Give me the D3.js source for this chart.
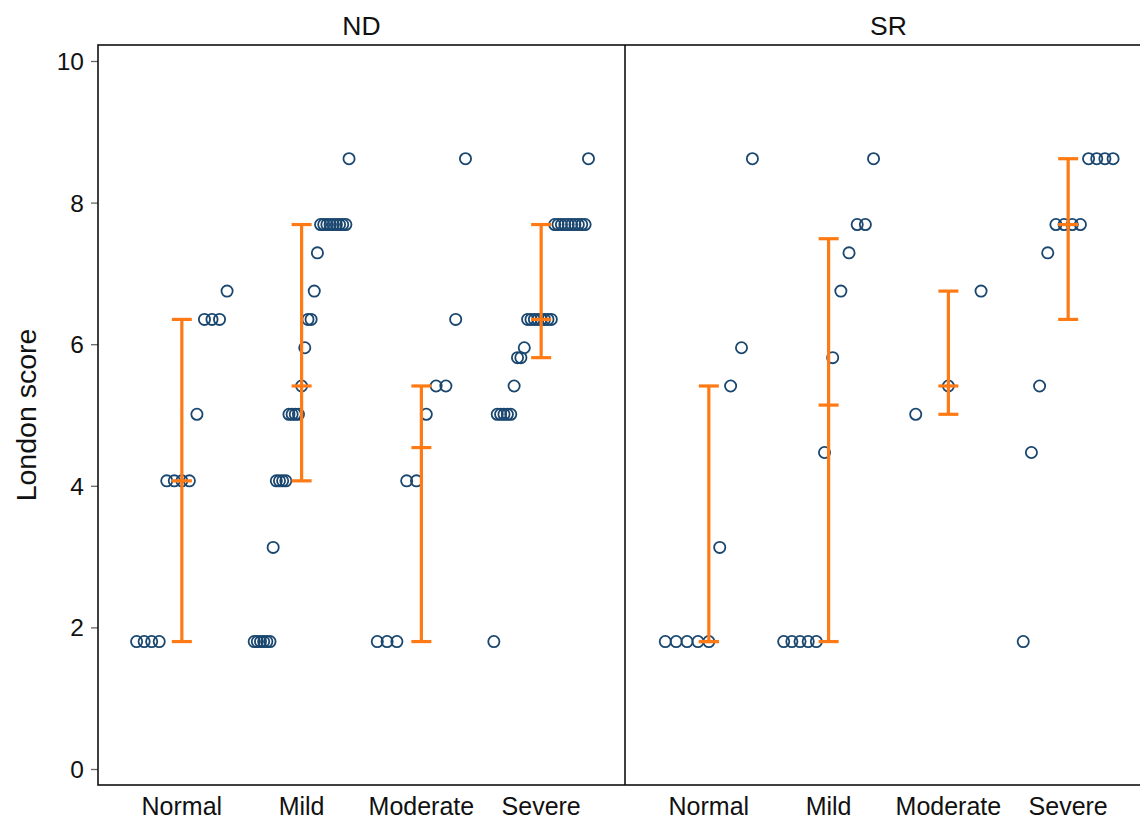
<!DOCTYPE html>
<html>
<head>
<meta charset="utf-8">
<script src="https://cdn.jsdelivr.net/npm/d3@7"></script>
<style>
  body { margin: 0; background: #fff; }
  svg { display: block; }
  text { font-family: "Liberation Sans", Arial, Helvetica, sans-serif; fill: #111; }
</style>
</head>
<body>
<svg id="chart" width="1140" height="821"></svg>
<script>
// Panels, categories and axis ticks
const panels = ["ND", "SR"];
const categories = ["Normal", "Mild", "Moderate", "Severe"];
const yTicks = [0, 2, 4, 6, 8, 10];

// Individual London scores per group (ND panel)
const ndNormal   = [1.8, 1.8, 1.8, 1.8, 4.07, 4.07, 4.07, 4.07, 5.01, 6.35, 6.35, 6.35, 6.75];
const ndMild     = [1.8, 1.8, 1.8, 1.8, 1.8, 1.8, 3.13, 4.07, 4.07, 4.07, 4.07, 5.01, 5.01, 5.01, 5.01,
                    5.41, 5.95, 6.35, 6.35, 6.75, 7.29, 7.69, 7.69, 7.69, 7.69, 7.69, 7.69, 7.69, 7.69, 7.69, 8.62];
const ndModerate = [1.8, 1.8, 1.8, 4.07, 4.07, 5.01, 5.41, 5.41, 6.35, 8.62];
const ndSevere   = [1.8, 5.01, 5.01, 5.01, 5.01, 5.01, 5.41, 5.81, 5.81, 5.95, 6.35, 6.35, 6.35, 6.35, 6.35,
                    6.35, 6.35, 6.35, 7.69, 7.69, 7.69, 7.69, 7.69, 7.69, 7.69, 7.69, 7.69, 7.69, 8.62];

// Individual London scores per group (SR panel)
const srNormal   = [1.8, 1.8, 1.8, 1.8, 1.8, 3.13, 5.41, 5.95, 8.62];
const srMild     = [1.8, 1.8, 1.8, 1.8, 1.8, 4.47, 5.81, 6.75, 7.29, 7.69, 7.69, 8.62];
const srModerate = [5.01, 5.41, 6.75];
const srSevere   = [1.8, 4.47, 5.41, 7.29, 7.69, 7.69, 7.69, 7.69, 8.62, 8.62, 8.62, 8.62];

// Median and interquartile range per category
const ndQ25    = [1.8, 4.07, 1.8, 5.81];
const ndMedian = [4.07, 5.41, 4.54, 6.35];
const ndQ75    = [6.35, 7.69, 5.41, 7.69];
const srQ25    = [1.8, 1.8, 5.01, 6.35];
const srMedian = [1.8, 5.14, 5.41, 7.69];
const srQ75    = [5.41, 7.49, 6.75, 8.62];

const groups = {
  ND: [ndNormal, ndMild, ndModerate, ndSevere],
  SR: [srNormal, srMild, srModerate, srSevere]
};
const summary = {
  ND: { q25: ndQ25, med: ndMedian, q75: ndQ75 },
  SR: { q25: srQ25, med: srMedian, q75: srQ75 }
};

// Geometry
const plotLeft = 98, plotTop = 45, plotBottom = 785, panelW = 527;
const groupSpread = 98;
const pointColor = "#1a476f";
const barColor = "#ff7a14";

const svg = d3.select("#chart");

const xPanel = d3.scaleBand().domain(panels).range([plotLeft, plotLeft + panels.length * panelW]).padding(0);
const xCat = d3.scalePoint().domain(categories).range([0, panelW]).padding(0.7);
const y = d3.scaleLinear().domain([0, 10]).range([769, 61]);

// Y axis
const yAxis = svg.append("g")
  .attr("transform", `translate(${plotLeft},0)`)
  .call(d3.axisLeft(y).tickValues(yTicks).tickSize(7).tickPadding(7));
yAxis.select(".domain").remove();
yAxis.selectAll(".tick line").attr("stroke", "#666").attr("stroke-width", 1.3);
yAxis.selectAll(".tick text")
  .style("font-size", "24.5px")
  .attr("fill", "#111")
  .attr("dy", "0.35em");

svg.append("text")
  .attr("transform", `translate(36,${(61 + 769) / 2}) rotate(-90)`)
  .attr("text-anchor", "middle")
  .style("font-size", "28.5px")
  .text("London score");

// Panels
panels.forEach(p => {
  const x0 = xPanel(p);
  const g = svg.append("g").attr("transform", `translate(${x0},0)`);

  // Panel title
  g.append("text")
    .attr("x", panelW / 2)
    .attr("y", 35)
    .attr("text-anchor", "middle")
    .style("font-size", "26.5px")
    .text(p);

  // Category labels
  g.selectAll("text.cat")
    .data(categories)
    .join("text")
    .attr("class", "cat")
    .attr("x", d => xCat(d))
    .attr("y", 815)
    .attr("text-anchor", "middle")
    .style("font-size", "25px")
    .text(d => d);

  // Points, spread by rank within each category
  categories.forEach((c, i) => {
    const vals = groups[p][i].slice().sort(d3.ascending);
    const rankX = d3.scalePoint()
      .domain(d3.range(vals.length))
      .range([-groupSpread / 2, groupSpread / 2])
      .padding(0.5);
    g.append("g")
      .selectAll("circle")
      .data(vals)
      .join("circle")
      .attr("cx", (d, k) => xCat(c) + rankX(k))
      .attr("cy", d => y(d))
      .attr("r", 5.6)
      .attr("fill", "none")
      .attr("stroke", pointColor)
      .attr("stroke-width", 1.8);
  });

  // Median with interquartile range
  const s = summary[p];
  const bars = g.append("g")
    .attr("stroke", barColor)
    .attr("stroke-width", 3.2);
  categories.forEach((c, i) => {
    const cx = xCat(c);
    bars.append("line")
      .attr("x1", cx).attr("x2", cx)
      .attr("y1", y(s.q25[i])).attr("y2", y(s.q75[i]));
    [s.q25[i], s.med[i], s.q75[i]].forEach(v => {
      bars.append("line")
        .attr("x1", cx - 10).attr("x2", cx + 10)
        .attr("y1", y(v)).attr("y2", y(v));
    });
  });
});

// Frame and panel divider
svg.append("rect")
  .attr("x", plotLeft)
  .attr("y", plotTop)
  .attr("width", panels.length * panelW)
  .attr("height", plotBottom - plotTop)
  .attr("fill", "none")
  .attr("stroke", "#111")
  .attr("stroke-width", 1.6);
svg.append("line")
  .attr("x1", xPanel("SR")).attr("x2", xPanel("SR"))
  .attr("y1", plotTop).attr("y2", plotBottom)
  .attr("stroke", "#111")
  .attr("stroke-width", 1.6);
</script>
</body>
</html>
